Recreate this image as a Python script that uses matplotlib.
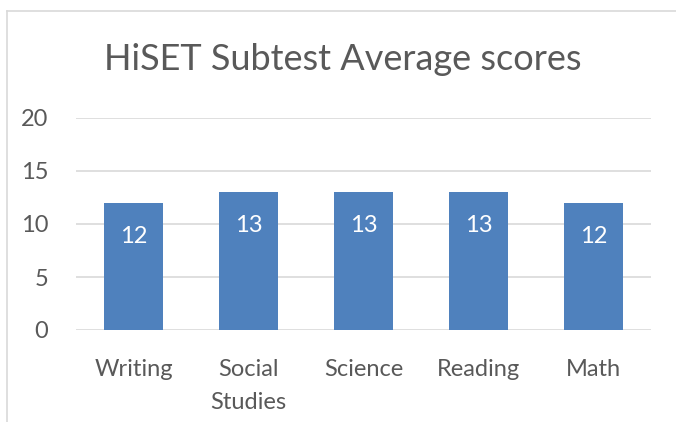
import matplotlib.pyplot as plt
from matplotlib.lines import Line2D

categories = ["Writing", "Social\nStudies", "Science", "Reading", "Math"]
scores = [12, 13, 13, 13, 12]
yticks = [0, 5, 10, 15, 20]

plt.rcParams['font.family'] = ['Lato', 'DejaVu Sans']
text_col = '#595959'
grid_col = '#d9d9d9'
bar_col = '#4f81bd'

fig = plt.figure(figsize=(6.76, 4.22), dpi=100)
ax = fig.add_axes([76 / 676, 1 - 330 / 422, (651 - 76) / 676, (330 - 118) / 422])

x = range(len(categories))
bars = ax.bar(x, scores, width=0.51, color=bar_col, zorder=3)
for xi, v in zip(x, scores):
    ax.annotate(str(v), xy=(xi, v), xytext=(0, -24), textcoords='offset points',
                ha='center', va='center', color='white', fontsize=17)

ax.set_xlim(-0.5, len(categories) - 0.5)
ax.set_ylim(0, 20)
ax.set_yticks(yticks)
ax.set_xticks(list(x))
ax.set_xticklabels(categories, linespacing=1.7)
ax.yaxis.grid(True, color=grid_col, linewidth=1.2, zorder=0)
for s in ax.spines.values():
    s.set_visible(False)
ax.tick_params(axis='both', length=0, colors=text_col, labelsize=17)
ax.tick_params(axis='x', pad=21)
ax.tick_params(axis='y', pad=20)
for lbl in ax.get_xticklabels():
    lbl.set_verticalalignment('top')

fig.text(343 / 676, 1 - 60 / 422, "HiSET Subtest Average scores", ha='center', va='center',
         fontsize=26, color=text_col)

# chart border (partially visible)
fig.add_artist(Line2D([6.5 / 676, 6.5 / 676], [0, 1 - 10.5 / 422], color=grid_col, lw=1.2))
fig.add_artist(Line2D([6.5 / 676, 1], [1 - 10.5 / 422, 1 - 10.5 / 422], color=grid_col, lw=1.2))

fig.savefig("out.png", dpi=100)
